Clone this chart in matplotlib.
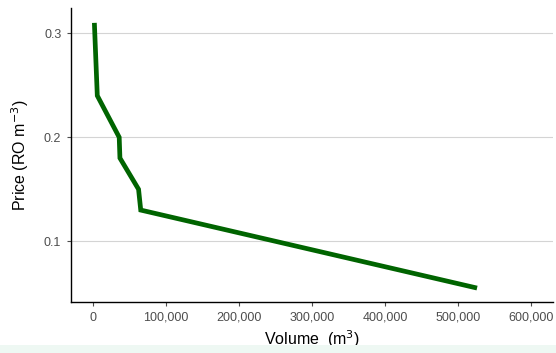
import matplotlib.pyplot as plt
from matplotlib.ticker import FuncFormatter
from matplotlib.patches import Rectangle

# Krzywa ceny od objętości
volume = [2000, 6000, 36000, 37000, 62500, 65500, 526000]
price = [0.31, 0.24, 0.20, 0.18, 0.15, 0.13, 0.055]

x_ticks = [0, 100000, 200000, 300000, 400000, 500000, 600000]
y_ticks = [0.1, 0.2, 0.3]

plt.rcParams["font.family"] = ["Liberation Sans", "DejaVu Sans"]

fig = plt.figure(figsize=(5.56, 3.53), dpi=100)
# jasny pasek na dole obrazka
fig.patches.append(Rectangle((0, 0), 1, 8 / 353, transform=fig.transFigure,
                             facecolor="#eef8f3", edgecolor="none", zorder=0))
ax = fig.add_axes([71 / 556, 51 / 353, 482 / 556, 294 / 353])

ax.plot(volume, price, color="#006400", lw=3.4, solid_joinstyle="miter",
        solid_capstyle="butt", zorder=3)

ax.set_xlim(-30000, 630000)
ax.set_ylim(0.0416, 0.3243)
ax.set_xticks(x_ticks)
ax.set_yticks(y_ticks)
ax.xaxis.set_major_formatter(FuncFormatter(lambda v, p: f"{int(v):,}"))
ax.yaxis.set_major_formatter(FuncFormatter(lambda v, p: f"{v:.1f}"))

ax.grid(axis="y", color="#d4d4d4", lw=0.8)
ax.set_axisbelow(True)
for s in ["top", "right"]:
    ax.spines[s].set_visible(False)
for s in ["left", "bottom"]:
    ax.spines[s].set_color("black")
    ax.spines[s].set_linewidth(1.0)

ax.tick_params(axis="both", colors="#4d4d4d", labelsize=9, length=3,
               width=0.8, pad=4)

ax.set_xlabel("Volume  (m$^3$)", fontsize=11.5, color="black", labelpad=3)
ax.set_ylabel("Price (RO m$^{-3}$)", fontsize=11.5, color="black", labelpad=9)

fig.savefig("out.png", dpi=100)
